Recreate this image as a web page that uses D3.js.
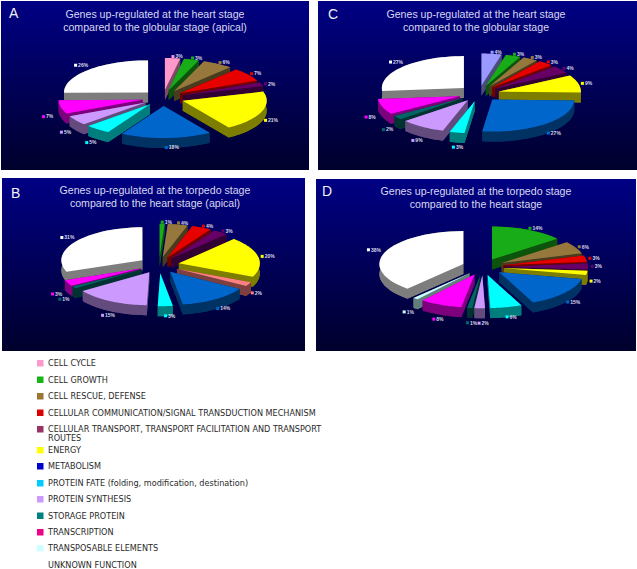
<!DOCTYPE html>
<html>
<head>
<meta charset="utf-8">
<script src="https://cdn.jsdelivr.net/npm/d3@7"></script>
<style>
  html, body { margin: 0; padding: 0; background: #fff; }
  svg { display: block; }
</style>
</head>
<body>
<script>
// legend categories, top to bottom
const categories = [
  "CELL CYCLE", "CELL GROWTH", "CELL RESCUE, DEFENSE",
  "CELLULAR COMMUNICATION/SIGNAL TRANSDUCTION MECHANISM",
  "CELLULAR TRANSPORT, TRANSPORT FACILITATION AND TRANSPORT ROUTES",
  "ENERGY", "METABOLISM", "PROTEIN FATE (folding, modification, destination)",
  "PROTEIN SYNTHESIS", "STORAGE PROTEIN", "TRANSCRIPTION",
  "TRANSPOSABLE ELEMENTS", "UNKNOWN FUNCTION"
];

// slices go clockwise from 12 o'clock, index into categories
const keysA = [0, 1, 2, 3, 4, 5, 6, 7, 8, 10, 12];
const valuesA = [3, 3, 6, 7, 2, 21, 18, 5, 5, 7, 26];
const keysB = [1, 2, 3, 4, 5, 0, 6, 7, 8, 9, 10, 12];
const valuesB = [1, 4, 4, 3, 20, 2, 14, 3, 15, 1, 3, 31];
const keysC = [0, 1, 2, 3, 4, 5, 6, 7, 8, 9, 10, 12];
const valuesC = [4, 3, 3, 3, 4, 9, 27, 3, 9, 2, 8, 27];
const keysD = [1, 2, 3, 4, 5, 6, 7, 8, 9, 10, 11, 12];
const valuesD = [14, 6, 3, 3, 2, 15, 6, 2, 1, 8, 1, 38];

const sliceColors = ["#ff99cc", "#18ac18", "#96783c", "#e60000", "#660066", "#ffff00",
  "#0066cc", "#00ffff", "#cc99ff", "#006666", "#ff00ff", "#ccffff", "#ffffff"];
const legendColors = ["#ff99cc", "#18b418", "#997733", "#dd0000", "#993366", "#ffff00",
  "#0000cc", "#00ccff", "#cc99ff", "#008080", "#ee0088", "#ccffff", "#ffffff"];
// legend row centres
const legendRows = [363, 379.5, 396, 412.5, 429, 450, 466, 483, 499, 515.5, 532, 548, 565];

const panels = [
  { letter: "A", keys: keysA, values: valuesA, x: 1, y: 1, w: 308, h: 169, cx: 163, cy: 98, rx: 84, ry: 32,
    title: ["Genes up-regulated at the heart stage", "compared to the globular stage (apical)"],
    tx: 155, ty: 18, lx: 9, ly: 18, first: null },
  { letter: "C", keys: keysC, values: valuesC, x: 318, y: 1, w: 319, h: 169, cx: 479, cy: 93.5, rx: 82, ry: 32,
    title: ["Genes up-regulated at the heart stage", "compared to the globular stage"],
    tx: 476, ty: 18, lx: 328, ly: 19, first: "#9999ff" },
  { letter: "B", keys: keysB, values: valuesB, x: 2, y: 178, w: 303, h: 173, cx: 159, cy: 265, rx: 81, ry: 33,
    title: ["Genes up-regulated at the torpedo stage", "compared to the heart stage (apical)"],
    tx: 155, ty: 194, lx: 11, ly: 198, first: "#ff8080" },
  { letter: "D", keys: keysD, values: valuesD, x: 316, y: 179, w: 320, h: 172, cx: 483, cy: 267, rx: 84, ry: 33,
    title: ["Genes up-regulated at the torpedo stage", "compared to the heart stage"],
    tx: 476, ty: 195, lx: 322, ly: 196, first: null }
];

const width = 637, height = 569;
const depth = 10, explode = 0.25;

const svg = d3.select("body").append("svg").attr("width", width).attr("height", height);

const grad = svg.append("defs").append("linearGradient")
  .attr("id", "bg").attr("x1", 0).attr("y1", 0).attr("x2", 0).attr("y2", 1);
grad.append("stop").attr("offset", "0%").attr("stop-color", "#000084");
grad.append("stop").attr("offset", "100%").attr("stop-color", "#00002c");

const pie = d3.pie().sort(null).value(d => d.value);
const line = d3.line();

panels.forEach(p => {
  const x = d3.scaleLinear().domain([-1, 1]).range([p.cx - p.rx, p.cx + p.rx]);
  const y = d3.scaleLinear().domain([-1, 1]).range([p.cy - p.ry, p.cy + p.ry]);
  const g = svg.append("g");

  g.append("rect").attr("x", p.x).attr("y", p.y).attr("width", p.w).attr("height", p.h)
    .attr("fill", "url(#bg)");

  const rows = p.keys.map((k, i) => ({ key: k, value: p.values[i] }));
  const arcs = pie(rows);

  // back slices first so the front ones paint over them
  const ordered = arcs.slice().sort((a, b) =>
    Math.cos(b.startAngle / 2 + b.endAngle / 2) - Math.cos(a.startAngle / 2 + a.endAngle / 2));

  ordered.forEach(a => {
    const mid = (a.startAngle + a.endAngle) / 2;
    const ox = explode * Math.sin(mid), oy = -explode * Math.cos(mid);
    const pt = (r, t, dz) => [x(ox + r * Math.sin(t)), y(oy - r * Math.cos(t)) + dz];
    const steps = d3.range(0, 31).map(i => a.startAngle + (a.endAngle - a.startAngle) * i / 30);
    const outline = dz => [pt(0, 0, dz)].concat(steps.map(t => pt(1, t, dz)));

    let color = sliceColors[a.data.key];
    if (a.data.key === 0 && p.first) color = p.first;
    const side = d3.color(color).darker(2).formatHex();

    // side walls: bottom face, the two cut faces and the rim, all in the dark tone
    g.append("path").attr("d", line(outline(depth)) + "Z").attr("fill", side);
    [a.startAngle, a.endAngle].forEach(t => {
      g.append("path")
        .attr("d", line([pt(0, 0, 0), pt(1, t, 0), pt(1, t, depth), pt(0, 0, depth)]) + "Z")
        .attr("fill", side);
    });
    const rim = steps.map(t => pt(1, t, 0)).concat(steps.slice().reverse().map(t => pt(1, t, depth)));
    g.append("path").attr("d", line(rim) + "Z").attr("fill", side);

    g.append("path").attr("d", line(outline(0)) + "Z").attr("fill", color);
  });

  // small value labels with their colour key, text runs rightwards so left side sits further out
  arcs.forEach(a => {
    const mid = (a.startAngle + a.endAngle) / 2;
    const k = Math.sin(mid) < 0 ? 1.46 : 1.3;
    const lx = x(k * Math.sin(mid));
    const ly = y(-k * Math.cos(mid)) + (Math.cos(mid) < 0 ? depth * 0.8 : 0);
    let color = sliceColors[a.data.key];
    if (a.data.key === 0 && p.first) color = p.first;
    g.append("rect").attr("x", lx - 1.5).attr("y", ly - 1.5).attr("width", 3).attr("height", 3)
      .attr("fill", color);
    g.append("text").attr("x", lx + 2.5).attr("y", ly + 1.8)
      .attr("font-family", "Liberation Sans").attr("font-size", 5).attr("font-weight", "bold")
      .attr("fill", "#d8d8e8").text(a.data.value + "%");
  });

  p.title.forEach((t, i) => {
    g.append("text").attr("x", p.tx).attr("y", p.ty + i * 13)
      .attr("text-anchor", "middle").attr("font-family", "Liberation Sans").attr("font-size", 10.6)
      .attr("fill", "#d8d8f0").text(t);
  });
  g.append("text").attr("x", p.lx).attr("y", p.ly)
    .attr("font-family", "Liberation Sans").attr("font-size", 14)
    .attr("fill", "#f0f0fa").text(p.letter);
});

// legend
const legend = svg.append("g").attr("font-family", "DejaVu Sans").attr("font-size", 8.15).attr("fill", "#2a2a2a");
categories.forEach((c, i) => {
  const cy = legendRows[i];
  legend.append("rect").attr("x", 37).attr("y", cy - 3).attr("width", 6.5).attr("height", 6.5)
    .attr("fill", legendColors[i]);
  // the long transport entry wraps onto a second line
  const parts = c.endsWith("TRANSPORT ROUTES") ? [c.replace(" ROUTES", ""), "ROUTES"] : [c];
  parts.forEach((s, j) => {
    legend.append("text").attr("x", 48).attr("y", cy + 3 + j * 9).text(s);
  });
});
</script>
</body>
</html>
